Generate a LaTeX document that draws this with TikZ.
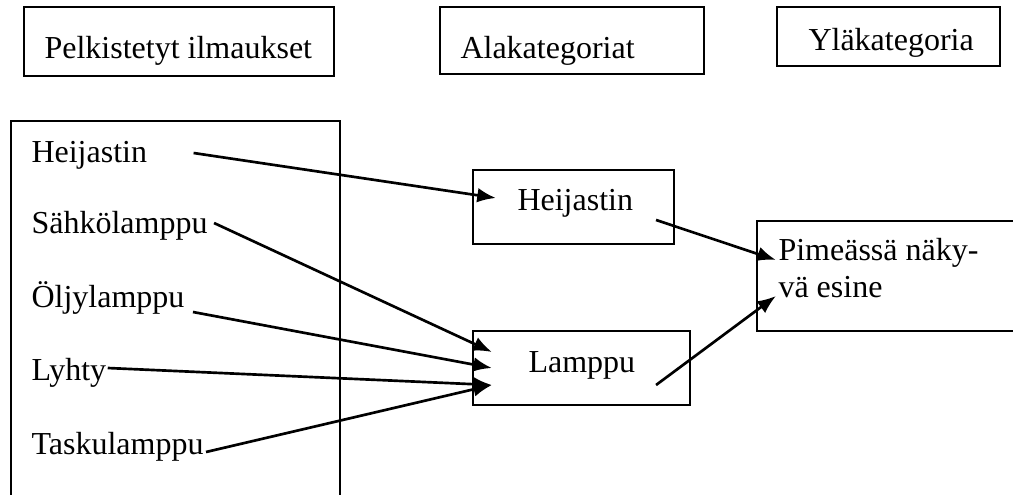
\documentclass[tikz,border=0pt]{standalone}
\usepackage{fontspec}
\setmainfont{Liberation Serif}
\usetikzlibrary{arrows.meta,fit}
\begin{document}
\begin{tikzpicture}[x=0.375pt,y=-0.375pt]
\tikzset{box style/.style={draw=black, line width=0.8pt, inner sep=0pt},
         text style/.style={anchor=base west, inner sep=0pt, font=\fontsize{12}{14}\selectfont},
         arrow style/.style={line width=1pt, -{Latex[length=7pt,width=5.5pt]}}}
\path[use as bounding box, clip] (0,0) rectangle (1013,494);

% headings
\node[box style, fit={(24,7) (334,76)}]   (hdrA) {};
\node[box style, fit={(440,7) (704,74)}]  (hdrB) {};
\node[box style, fit={(777,7) (1000,66)}] (hdrC) {};
\node[text style] at (44,58)  (hdrAtext) {Pelkistetyt ilmaukset};
\node[text style] at (460,58) (hdrBtext) {Alakategoriat};
\node[text style] at (808,50) (hdrCtext) {Yläkategoria};

% left column
\node[box style, fit={(11,121) (340,530)}] (leftBox) {};
\node[text style] at (31,162) (heijL)  {Heijastin};
\node[text style] at (31,233) (sahkoL) {Sähkölamppu};
\node[text style] at (31,307) (oljyL)  {Öljylamppu};
\node[text style] at (31,380) (lyhtyL) {Lyhty};
\node[text style] at (31,454) (taskuL) {Taskulamppu};

% middle column
\node[box style, fit={(473,170) (674,244)}] (heijBox) {};
\node[box style, fit={(473,331) (690,405)}] (lampBox) {};
\node[text style] at (517,210) (heijM) {Heijastin};
\node[text style] at (528,372) (lampM) {Lamppu};

% right column
\node[box style, fit={(757,221) (1030,331)}] (ylaBox) {};
\node[text style] at (778,260) (ylaA) {Pimeässä näky-};
\node[text style] at (778,297) (ylaB) {vä esine};

\draw[arrow style] ([shift={(46,-9)}]heijL.base east)  -- ([shift={(24,-9)}]heijBox.west);
\draw[arrow style] ([shift={(6,-10)}]sahkoL.base east) -- ([shift={(20,-16)}]lampBox.west);
\draw[arrow style] ([shift={(8,5)}]oljyL.base east)    -- ([shift={(20,0)}]lampBox.west);
\draw[arrow style] ([shift={(1,-12)}]lyhtyL.base east) -- ([shift={(20,17)}]lampBox.west);
\draw[arrow style] ([shift={(2,-2)}]taskuL.base east)  -- ([shift={(20,17)}]lampBox.west);
\draw[arrow style] ([shift={(-19,13)}]heijBox.east)    -- ([shift={(20,-16)}]ylaBox.west);
\draw[arrow style] ([shift={(-35,17)}]lampBox.east)    -- ([shift={(20,20)}]ylaBox.west);
\end{tikzpicture}
\end{document}
